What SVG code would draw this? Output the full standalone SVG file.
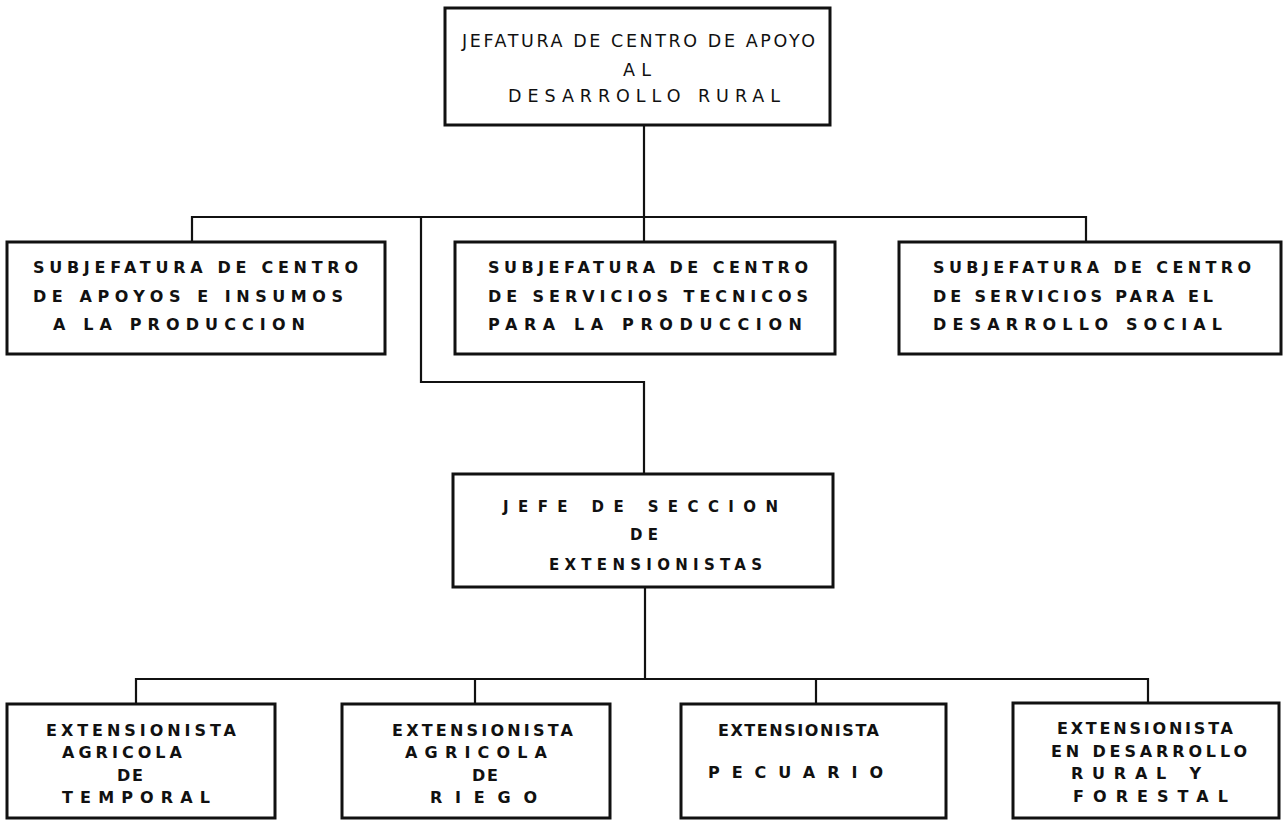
<svg xmlns="http://www.w3.org/2000/svg" width="1285" height="827" viewBox="0 0 1285 827">
<style>
.bg{fill:#fff}
.box{fill:#fff;stroke:#111;stroke-width:3}
.con{fill:none;stroke:#111;stroke-width:2.2}
text{font-family:"DejaVu Sans","Liberation Sans",Arial,sans-serif;fill:#111}
.t1{font-size:17.5px;font-weight:normal}
.t2{font-size:16px;font-weight:bold}
.t3{font-size:15px;font-weight:bold}
</style>
<rect class="bg" x="0" y="0" width="1285" height="827"/>
<g id="connectors">
<path class="con" d="M644 125 V242"/>
<path class="con" d="M192 242 V217 H1086 V242"/>
<path class="con" d="M421 217 V382 H644 V474"/>
<path class="con" d="M645 587 V679"/>
<path class="con" d="M136 704 V679 H1148 V703"/>
<path class="con" d="M475 679 V704"/>
<path class="con" d="M816 679 V704"/>
</g>
<g id="jefatura">
<rect class="box" x="445" y="8" width="385" height="117"/>
<text class="t1" x="462" y="47" textLength="353" lengthAdjust="spacing">JEFATURA DE CENTRO DE APOYO</text>
<text class="t1" x="623" y="76" textLength="28" lengthAdjust="spacing">AL</text>
<text class="t1" x="508" y="102" textLength="272" lengthAdjust="spacing">DESARROLLO  RURAL</text>
</g>
<g id="sub-apoyos">
<rect class="box" x="7" y="242" width="378" height="112"/>
<text class="t2" x="33" y="273" textLength="325" lengthAdjust="spacing">SUBJEFATURA DE CENTRO</text>
<text class="t2" x="33" y="302" textLength="310" lengthAdjust="spacing">DE APOYOS E INSUMOS</text>
<text class="t2" x="53" y="330" textLength="252" lengthAdjust="spacing">A LA PRODUCCION</text>
</g>
<g id="sub-tecnicos">
<rect class="box" x="455" y="242" width="380" height="112"/>
<text class="t2" x="488" y="273" textLength="320" lengthAdjust="spacing">SUBJEFATURA DE CENTRO</text>
<text class="t2" x="488" y="302" textLength="320" lengthAdjust="spacing">DE SERVICIOS  TECNICOS</text>
<text class="t2" x="488" y="330" textLength="314" lengthAdjust="spacing">PARA LA PRODUCCION</text>
</g>
<g id="sub-social">
<rect class="box" x="899" y="242" width="382" height="112"/>
<text class="t2" x="933" y="273" textLength="318" lengthAdjust="spacing">SUBJEFATURA DE CENTRO</text>
<text class="t2" x="933" y="302" textLength="280" lengthAdjust="spacing">DE SERVICIOS PARA EL</text>
<text class="t2" x="933" y="330" textLength="289" lengthAdjust="spacing">DESARROLLO  SOCIAL</text>
</g>
<g id="jefe-seccion">
<rect class="box" x="453" y="474" width="380" height="113"/>
<text class="t3" x="503" y="512" textLength="275" lengthAdjust="spacing">JEFE  DE  SECCION</text>
<text class="t3" x="630" y="540" textLength="28" lengthAdjust="spacing">DE</text>
<text class="t3" x="549" y="570" textLength="213" lengthAdjust="spacing">EXTENSIONISTAS</text>
</g>
<g id="ext-temporal">
<rect class="box" x="7" y="704" width="268" height="114"/>
<text class="t2" x="46" y="736" textLength="190" lengthAdjust="spacing">EXTENSIONISTA</text>
<text class="t2" x="62" y="758" textLength="120" lengthAdjust="spacing">AGRICOLA</text>
<text class="t2" x="117" y="781" textLength="26" lengthAdjust="spacing">DE</text>
<text class="t2" x="62" y="803" textLength="148" lengthAdjust="spacing">TEMPORAL</text>
</g>
<g id="ext-riego">
<rect class="box" x="342" y="704" width="268" height="114"/>
<text class="t2" x="392" y="736" textLength="181" lengthAdjust="spacing">EXTENSIONISTA</text>
<text class="t2" x="405" y="758" textLength="142" lengthAdjust="spacing">AGRICOLA</text>
<text class="t2" x="472" y="781" textLength="26" lengthAdjust="spacing">DE</text>
<text class="t2" x="430" y="803" textLength="107" lengthAdjust="spacing">RIEGO</text>
</g>
<g id="ext-pecuario">
<rect class="box" x="681" y="704" width="265" height="114"/>
<text class="t2" x="718" y="736" textLength="161" lengthAdjust="spacing">EXTENSIONISTA</text>
<text class="t2" x="708" y="778" textLength="175" lengthAdjust="spacing">PECUARIO</text>
</g>
<g id="ext-rural">
<rect class="box" x="1013" y="703" width="266" height="115"/>
<text class="t2" x="1057" y="734" textLength="176" lengthAdjust="spacing">EXTENSIONISTA</text>
<text class="t2" x="1051" y="757" textLength="196" lengthAdjust="spacing">EN DESARROLLO</text>
<text class="t2" x="1071" y="779" textLength="130" lengthAdjust="spacing">RURAL  Y</text>
<text class="t2" x="1073" y="802" textLength="155" lengthAdjust="spacing">FORESTAL</text>
</g>
</svg>
